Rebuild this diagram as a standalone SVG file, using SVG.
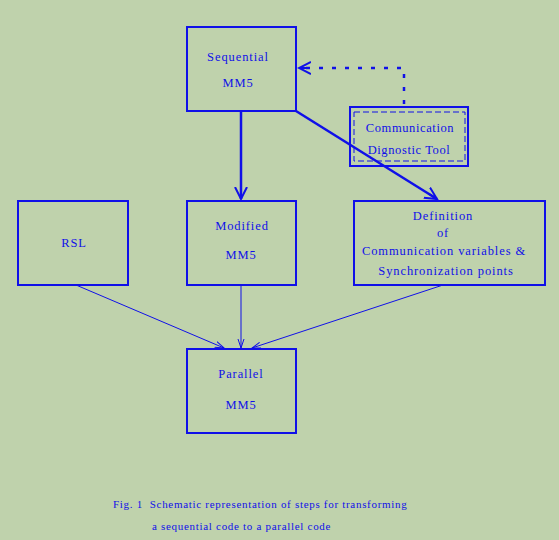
<svg xmlns="http://www.w3.org/2000/svg" width="559" height="540" viewBox="0 0 559 540">
<style>
.box{fill:none;stroke:#1010e8;stroke-width:2}
.t{font-family:"Liberation Serif",serif;font-size:12.5px;fill:#1010e8;text-anchor:middle;letter-spacing:0.9px}
.c{font-family:"Liberation Serif",serif;font-size:11px;fill:#1010e8;letter-spacing:0.7px}
.ln{stroke:#1010e8;fill:none}
</style>
<defs>
<marker id="big" markerWidth="14" markerHeight="14" refX="12" refY="7" orient="auto" markerUnits="userSpaceOnUse">
<path d="M0,1 L12,7 L0,13 M2,7 L12,7" fill="none" stroke="#1010e8" stroke-width="2"/>
</marker>
<marker id="sm" markerWidth="10" markerHeight="8" refX="9" refY="4" orient="auto" markerUnits="userSpaceOnUse">
<path d="M0,1 L9,4 L0,7" fill="none" stroke="#1010e8" stroke-width="1"/>
</marker>
</defs>
<rect width="559" height="540" fill="#bfd2ac"/>
<g id="connectors">
<line class="ln" x1="241" y1="111" x2="241" y2="199" stroke-width="2.5" marker-end="url(#big)"/>
<line class="ln" x1="296" y1="111" x2="437" y2="199" stroke-width="2.5" marker-end="url(#big)"/>
<polyline class="ln" points="404,104 404,68 299,68" stroke-width="2.5" stroke-dasharray="4,9" marker-end="url(#big)"/>
<line class="ln" x1="76" y1="285" x2="224" y2="348" stroke-width="1" marker-end="url(#sm)"/>
<line class="ln" x1="241" y1="285" x2="241" y2="348" stroke-width="1" marker-end="url(#sm)"/>
<line class="ln" x1="443" y1="285" x2="252" y2="348" stroke-width="1" marker-end="url(#sm)"/>
</g>
<g id="sequential">
<rect class="box" x="187" y="27" width="109" height="84"/>
<text class="t" x="238" y="61">Sequential</text>
<text class="t" x="238" y="87">MM5</text>
</g>
<g id="comm">
<rect class="box" x="350" y="107" width="118" height="59" stroke-width="1.5"/>
<rect x="354" y="112" width="111" height="49" fill="none" stroke="#1010e8" stroke-width="1" stroke-dasharray="6,3"/>
<text class="t" x="410" y="132" font-size="11.5" style="letter-spacing:0.6px">Communication</text>
<text class="t" x="409" y="154" font-size="11.5" style="letter-spacing:0.6px">Dignostic Tool</text>
</g>
<g id="rsl">
<rect class="box" x="18" y="201" width="110" height="84"/>
<text class="t" x="74" y="247">RSL</text>
</g>
<g id="modified">
<rect class="box" x="187" y="201" width="109" height="84"/>
<text class="t" x="242" y="230">Modified</text>
<text class="t" x="241" y="259">MM5</text>
</g>
<g id="definition">
<rect class="box" x="354" y="201" width="191" height="84"/>
<text class="t" x="443" y="220">Definition</text>
<text class="t" x="443" y="237">of</text>
<text class="t" x="444" y="255">Communication variables &amp;</text>
<text class="t" x="446" y="275">Synchronization points</text>
</g>
<g id="parallel">
<rect class="box" x="187" y="349" width="109" height="84"/>
<text class="t" x="241" y="378">Parallel</text>
<text class="t" x="241" y="409">MM5</text>
</g>
<g id="caption">
<text class="c" x="113" y="508" xml:space="preserve">Fig. 1  Schematic representation of steps for transforming</text>
<text class="c" x="152" y="530">a sequential code to a parallel code</text>
</g>
</svg>
